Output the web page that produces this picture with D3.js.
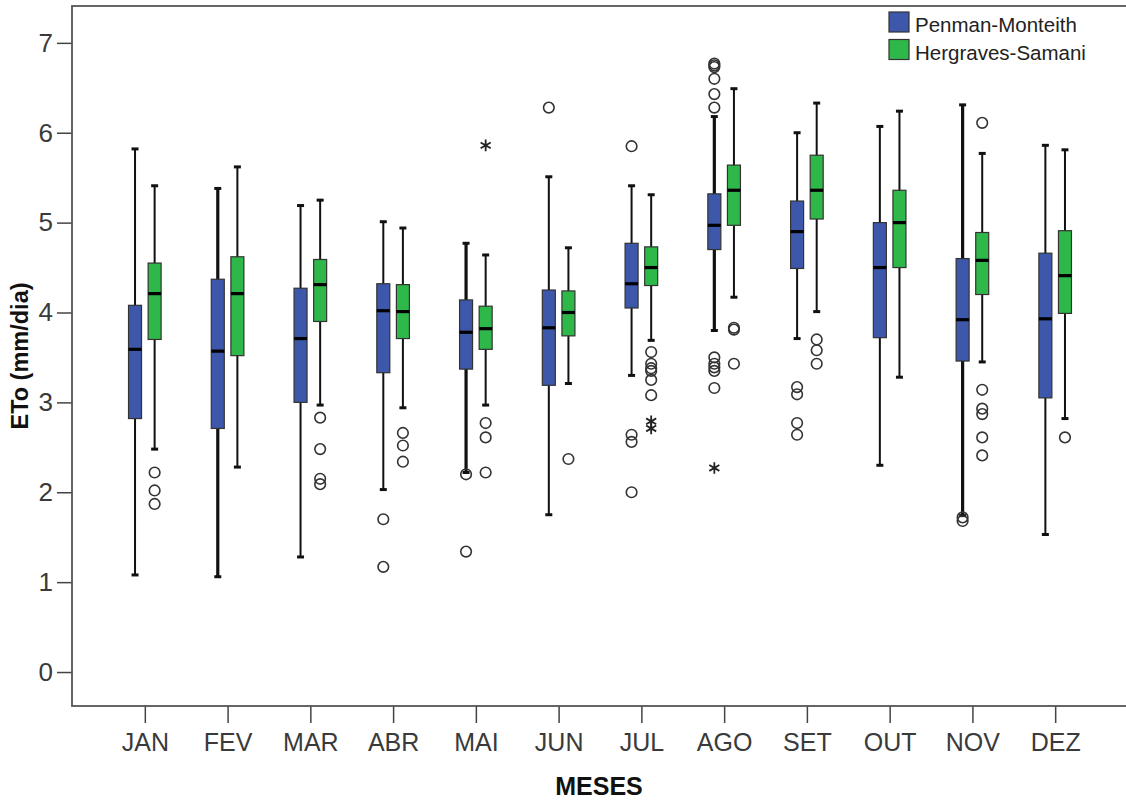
<!DOCTYPE html>
<html>
<head>
<meta charset="utf-8">
<script src="https://cdn.jsdelivr.net/npm/d3@7"></script>
<style>
  html, body { margin: 0; padding: 0; background: #fff; }
  svg { display: block; }
  text { font-family: "Liberation Sans", Arial, sans-serif; }
</style>
</head>
<body>
<svg id="chart" width="1126" height="805"></svg>
<script>
// Monthly reference evapotranspiration (ETo, mm/dia) by method
const months = ["JAN","FEV","MAR","ABR","MAI","JUN","JUL","AGO","SET","OUT","NOV","DEZ"];
const seriesNames = ["Penman-Monteith", "Hergraves-Samani"];
const yTicks = [0, 1, 2, 3, 4, 5, 6, 7];

// Penman-Monteith five-number summaries
const pmMax = [5.82, 5.38, 5.19, 5.01, 4.77, 5.51, 5.41, 6.18, 6.00, 6.07, 6.31, 5.86];
const pmQ3  = [4.08, 4.37, 4.27, 4.32, 4.14, 4.25, 4.77, 5.32, 5.24, 5.00, 4.60, 4.66];
const pmMed = [3.59, 3.57, 3.71, 4.02, 3.78, 3.83, 4.32, 4.97, 4.90, 4.50, 3.92, 3.93];
const pmQ1  = [2.82, 2.71, 3.00, 3.33, 3.37, 3.19, 4.05, 4.70, 4.49, 3.72, 3.46, 3.05];
const pmMin = [1.08, 1.06, 1.28, 2.03, 2.22, 1.75, 3.30, 3.80, 3.71, 2.30, 1.74, 1.53];
const pmOutliers = [[], [], [], [1.70, 1.17], [2.20, 1.34], [6.28], [5.85, 2.64, 2.56, 2.00],
  [6.77, 6.75, 6.73, 6.60, 6.43, 6.28, 3.50, 3.43, 3.39, 3.35, 3.16], [3.17, 3.09, 2.77, 2.64], [], [1.72, 1.68], []];
const pmExtremes = [[], [], [], [], [], [], [], [2.27], [], [], [], []];

// Hergraves-Samani five-number summaries
const hsMax = [5.41, 5.62, 5.25, 4.94, 4.64, 4.72, 5.31, 6.49, 6.33, 6.24, 5.77, 5.81];
const hsQ3  = [4.55, 4.62, 4.59, 4.31, 4.07, 4.24, 4.73, 5.64, 5.75, 5.36, 4.89, 4.91];
const hsMed = [4.21, 4.21, 4.31, 4.01, 3.82, 4.00, 4.50, 5.36, 5.36, 5.00, 4.58, 4.41];
const hsQ1  = [3.70, 3.52, 3.90, 3.71, 3.59, 3.74, 4.30, 4.97, 5.04, 4.50, 4.20, 3.99];
const hsMin = [2.48, 2.28, 2.97, 2.94, 2.97, 3.21, 3.69, 4.17, 4.01, 3.28, 3.45, 2.82];
const hsOutliers = [[2.22, 2.02, 1.87], [], [2.83, 2.48, 2.15, 2.09], [2.66, 2.52, 2.34], [2.77, 2.61, 2.22], [2.37],
  [3.56, 3.43, 3.38, 3.35, 3.25, 3.08], [3.83, 3.81, 3.43], [3.70, 3.58, 3.43], [], [6.11, 3.14, 2.93, 2.87, 2.61, 2.41], [2.61]];
const hsExtremes = [[], [], [], [], [5.86], [], [2.79, 2.71], [], [], [], [], []];

// Styling
const colors = ["#3d58aa", "#2fb84a"];
const heavyWhiskers = new Set(["Penman-Monteith|FEV", "Penman-Monteith|MAI", "Penman-Monteith|AGO", "Penman-Monteith|NOV"]);

const stats = [
  { min: pmMin, q1: pmQ1, med: pmMed, q3: pmQ3, max: pmMax, out: pmOutliers, ext: pmExtremes },
  { min: hsMin, q1: hsQ1, med: hsMed, q3: hsQ3, max: hsMax, out: hsOutliers, ext: hsExtremes }
];

const boxes = [];
seriesNames.forEach((s, si) => {
  months.forEach((m, mi) => {
    const st = stats[si];
    boxes.push({
      series: s, si, month: m,
      min: st.min[mi], q1: st.q1[mi], med: st.med[mi], q3: st.q3[mi], max: st.max[mi],
      out: st.out[mi], ext: st.ext[mi]
    });
  });
});

const svg = d3.select("#chart");
const plot = { left: 72, right: 1128, top: 6, bottom: 706 };

const x = d3.scalePoint().domain(months).range([plot.left, plot.right]).padding(0.88);
const xSub = d3.scalePoint().domain(seriesNames).range([-9.8, 9.8]);
const y = d3.scaleLinear().domain([-0.378, 7.41]).range([plot.bottom, plot.top]);

const boxW = 13;
const capW = 7;

// Axes
const yAxis = d3.axisLeft(y).tickValues(yTicks).tickSize(15).tickSizeOuter(0).tickPadding(4).tickFormat(d3.format("d"));
const gy = svg.append("g").attr("transform", `translate(${plot.left},0)`).call(yAxis);
gy.select(".domain").remove();
gy.selectAll(".tick line").attr("stroke", "#444").attr("stroke-width", 1.5);
gy.selectAll(".tick text").attr("font-size", 26).attr("fill", "#3a3a3a").attr("font-family", "Liberation Sans, Arial, sans-serif");

const xAxis = d3.axisBottom(x).tickSize(17).tickSizeOuter(0).tickPadding(10);
const gx = svg.append("g").attr("transform", `translate(0,${plot.bottom})`).call(xAxis);
gx.select(".domain").remove();
gx.selectAll(".tick line").attr("stroke", "#444").attr("stroke-width", 1.5);
gx.selectAll(".tick text").attr("font-size", 25).attr("fill", "#3a3a3a").attr("font-family", "Liberation Sans, Arial, sans-serif");

// Frame
svg.append("rect")
  .attr("x", plot.left).attr("y", plot.top)
  .attr("width", plot.right - plot.left).attr("height", plot.bottom - plot.top)
  .attr("fill", "none").attr("stroke", "#555").attr("stroke-width", 1.8);

// Axis titles
svg.append("text")
  .attr("transform", "translate(28,356) rotate(-90)")
  .attr("text-anchor", "middle")
  .attr("font-size", 23.5).attr("font-weight", "bold").attr("fill", "#111")
  .text("ETo (mm/dia)");

svg.append("text")
  .attr("x", 599).attr("y", 795)
  .attr("text-anchor", "middle")
  .attr("font-size", 25).attr("font-weight", "bold").attr("fill", "#111")
  .text("MESES");

// Boxplots
const g = svg.append("g");
const bx = d => x(d.month) + xSub(d.series);

const bg = g.selectAll("g.box").data(boxes).join("g").attr("class", "box");

// whiskers
bg.append("line")
  .attr("x1", bx).attr("x2", bx)
  .attr("y1", d => y(d.max)).attr("y2", d => y(d.min))
  .attr("stroke", "#111")
  .attr("stroke-width", d => heavyWhiskers.has(d.series + "|" + d.month) ? 3.2 : 2);

// whisker caps
["max", "min"].forEach(k => {
  bg.append("line")
    .attr("x1", d => bx(d) - capW / 2).attr("x2", d => bx(d) + capW / 2)
    .attr("y1", d => y(d[k])).attr("y2", d => y(d[k]))
    .attr("stroke", "#111").attr("stroke-width", 3);
});

// boxes
bg.append("rect")
  .attr("x", d => bx(d) - boxW / 2)
  .attr("width", boxW)
  .attr("y", d => y(d.q3))
  .attr("height", d => y(d.q1) - y(d.q3))
  .attr("fill", d => colors[d.si])
  .attr("stroke", "#333").attr("stroke-width", 1.2);

// medians
bg.append("line")
  .attr("x1", d => bx(d) - boxW / 2).attr("x2", d => bx(d) + boxW / 2)
  .attr("y1", d => y(d.med)).attr("y2", d => y(d.med))
  .attr("stroke", "#000").attr("stroke-width", 3.2);

// outliers
bg.selectAll("circle.out")
  .data(d => d.out.map(v => ({ v, cx: bx(d) })))
  .join("circle").attr("class", "out")
  .attr("cx", d => d.cx).attr("cy", d => y(d.v))
  .attr("r", 5.3)
  .attr("fill", "none").attr("stroke", "#333").attr("stroke-width", 1.6);

// extremes
const star = d3.symbol().type(d3.symbolAsterisk).size(95);
bg.selectAll("path.ext")
  .data(d => d.ext.map(v => ({ v, cx: bx(d) })))
  .join("path").attr("class", "ext")
  .attr("transform", d => `translate(${d.cx},${y(d.v)})`)
  .attr("d", star)
  .attr("fill", "none").attr("stroke", "#222").attr("stroke-width", 1.8);

// Legend
const lg = svg.append("g").attr("transform", "translate(889,12)");
const li = lg.selectAll("g").data(seriesNames).join("g")
  .attr("transform", (d, i) => `translate(0,${i * 27.5})`);
li.append("rect").attr("width", 20).attr("height", 20)
  .attr("fill", (d, i) => colors[i]).attr("stroke", "#333").attr("stroke-width", 1.2);
li.append("text").attr("x", 26).attr("y", 20)
  .attr("font-size", 20.5).attr("fill", "#222")
  .text(d => d);
</script>
</body>
</html>
